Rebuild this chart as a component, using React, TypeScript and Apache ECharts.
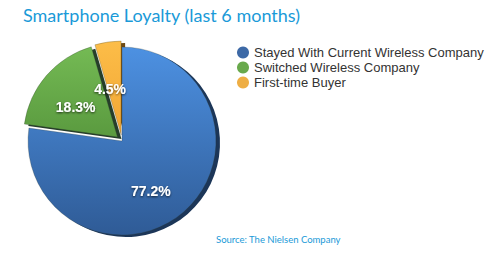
import React, { useEffect, useRef } from "react";
import * as echarts from "echarts";

const categories = ["Stayed With Current Wireless Company", "Switched Wireless Company", "First-time Buyer"];
const values = [77.2, 18.3, 4.5];
const exploded = [false, true, true];
const titleText = "Smartphone Loyalty (last 6 months)";
const sourceText = "Source: The Nielsen Company";

const sliceGradients = [
  ["#4d91e2", "#2f5b96"],
  ["#74ba54", "#5a9a3f"],
  ["#fcbd48", "#f1a634"],
];
const shadowColors = ["#1c3658", "#263e2a", "#6e4a14"];
const legendColors = ["#3d69a6", "#69a94c", "#eeae44"];

export default function App() {
  const ref = useRef<HTMLDivElement>(null);
  useEffect(() => {
    if (!ref.current) return;
    const chart = echarts.init(ref.current, null, { renderer: "svg" });
    const center = [122, 141];
    const radius = 94;
    const mainData = categories.map((name, i) => ({
      name,
      value: values[i],
      selected: exploded[i],
      itemStyle: {
        color: new echarts.graphic.LinearGradient(0, 0, 0, 1, [
          { offset: 0, color: sliceGradients[i][0] },
          { offset: 1, color: sliceGradients[i][1] },
        ]),
      },
    }));
    const shadowData = categories.map((name, i) => ({
      name: "shadow" + i,
      value: values[i],
      selected: exploded[i],
      itemStyle: { color: shadowColors[i] },
    }));
    chart.setOption({
      animation: false,
      backgroundColor: "#ffffff",
      title: {
        text: titleText,
        left: 18,
        top: 1,
        textStyle: { color: "#1a9ad8", fontFamily: "Lato", fontSize: 18, fontWeight: "normal" },
      },
      legend: {
        orient: "vertical",
        left: 232,
        top: 41,
        icon: "circle",
        itemWidth: 12,
        itemHeight: 12,
        itemGap: 2,
        itemStyle: { borderWidth: 0 },
        data: categories.map((name, i) => ({ name, itemStyle: { color: legendColors[i], borderWidth: 0 } })),
        textStyle: { color: "#333333", fontFamily: "Liberation Sans", fontSize: 13, lineHeight: 13, padding: [0, 0, 0, 0] },
        selectedMode: false,
      },
      graphic: [
        {
          type: "text",
          left: 216,
          top: 234,
          style: { text: sourceText, fill: "#1a9ad8", font: "9.5px Lato" },
        },
      ],
      series: [
        {
          type: "pie",
          z: 1,
          silent: true,
          center: [center[0] + 4, center[1] + 2],
          radius,
          startAngle: 90,
          clockwise: true,
          selectedMode: "multiple",
          selectedOffset: 6,
          label: { show: false },
          labelLine: { show: false },
          legendHoverLink: false,
          data: shadowData,
        },
        {
          type: "pie",
          z: 2,
          center,
          radius,
          startAngle: 90,
          clockwise: true,
          selectedMode: "multiple",
          selectedOffset: 6,
          itemStyle: { borderColor: "rgba(40,50,40,0.5)", borderWidth: 0.5 },
          label: {
            show: true,
            position: "inside",
            formatter: (p: any) => p.value.toFixed(1) + "%",
            color: "#ffffff",
            fontFamily: "Liberation Sans",
            fontWeight: "bold",
            fontSize: 14,
            textShadowColor: "rgba(0,0,0,0.7)",
            textShadowBlur: 2,
            textShadowOffsetY: 1,
          },
          labelLayout: (p: any) => (p.dataIndex === 0 ? { dx: -4, dy: 12 } : { dx: -4, dy: 3 }),
          labelLine: { show: false },
          data: mainData,
        },
      ],
    });
    return () => chart.dispose();
  }, []);
  return <div ref={ref} style={{ position: "fixed", left: 0, top: 0, width: 492, height: 257 }} />;
}
